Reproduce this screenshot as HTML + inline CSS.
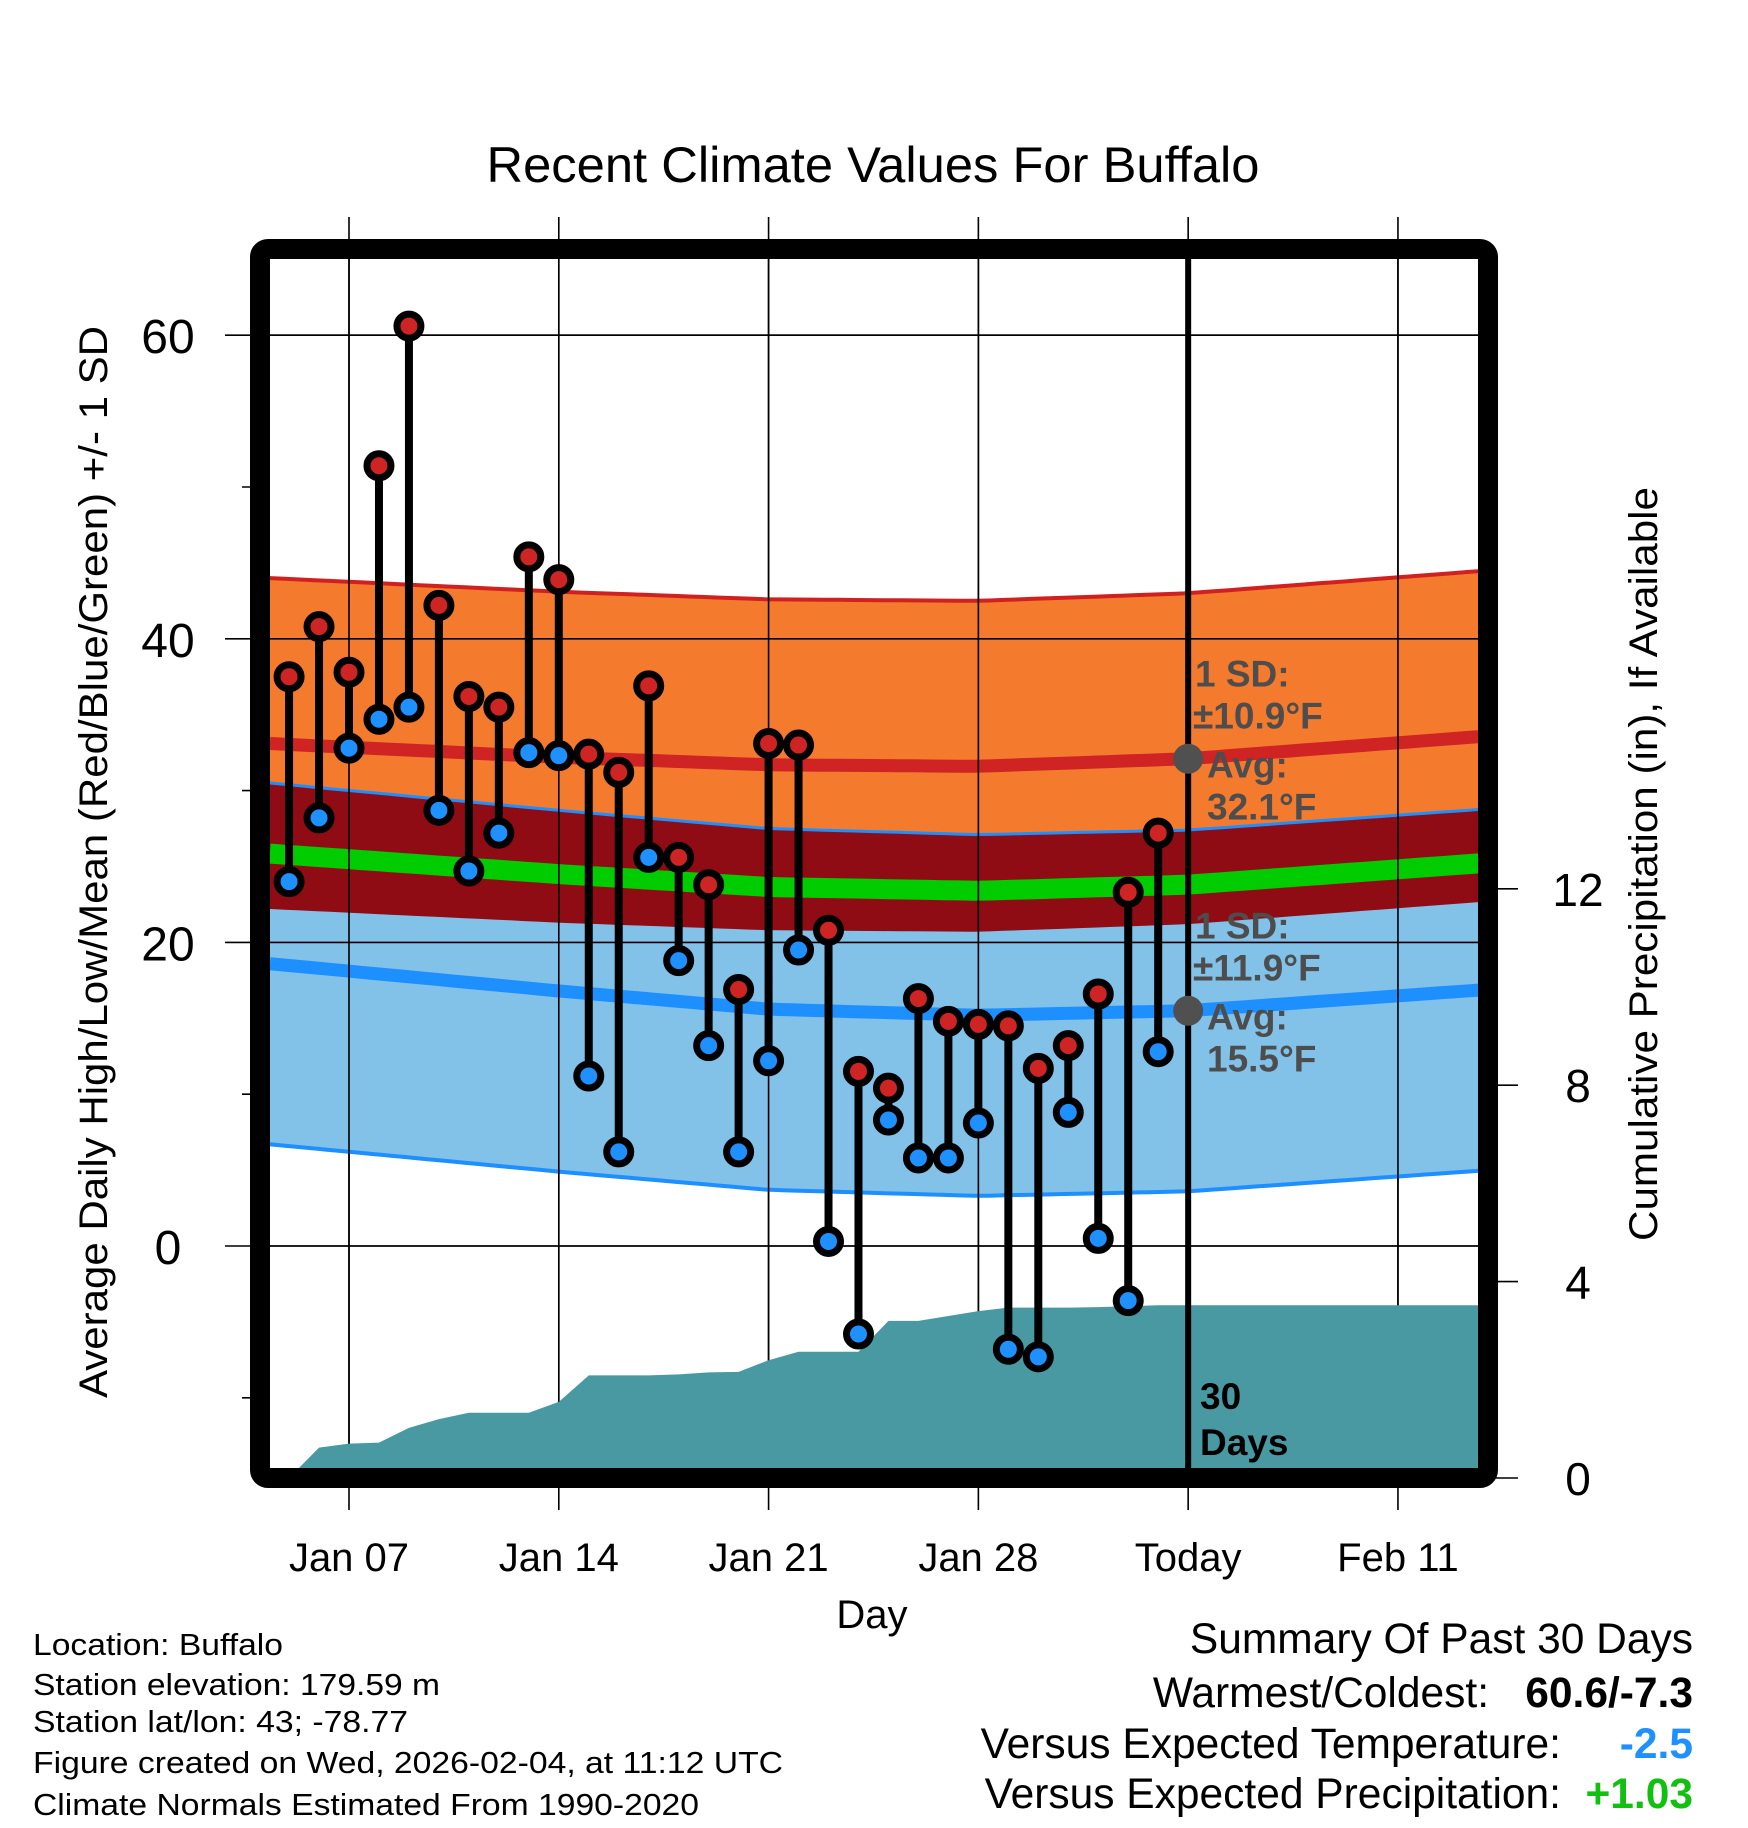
<!DOCTYPE html>
<html><head><meta charset="utf-8"><style>
html,body{margin:0;padding:0;background:#fff}
svg{display:block;font-family:"Liberation Sans",sans-serif}
</style></head><body>
<svg id="chart" width="1748" height="1828" viewBox="0 0 1748 1828" xmlns="http://www.w3.org/2000/svg">
<defs><clipPath id="plotclip"><rect x="270" y="259" width="1208" height="1209"/></clipPath></defs>
<g id="grid"></g>
<g id="bands" clip-path="url(#plotclip)"></g>
<g id="gridover" clip-path="url(#plotclip)"></g>
<g id="precip" clip-path="url(#plotclip)"></g>
<g id="marks"></g>
<rect x="260" y="249" width="1228" height="1229" rx="8" fill="none" stroke="#000" stroke-width="20"/>
<g id="axes"></g>
<text x="873" y="182" font-size="50" text-anchor="middle" textLength="773" lengthAdjust="spacingAndGlyphs">Recent Climate Values For Buffalo</text>
<text x="872" y="1628" font-size="40" text-anchor="middle">Day</text>
<text transform="translate(107,862) rotate(-90)" font-size="40" text-anchor="middle" textLength="1072" lengthAdjust="spacingAndGlyphs">Average Daily High/Low/Mean (Red/Blue/Green) +/- 1 SD</text>
<text transform="translate(1657,864) rotate(-90)" font-size="40" text-anchor="middle" textLength="754" lengthAdjust="spacingAndGlyphs">Cumulative Precipitation (in), If Available</text>
<g font-size="31">
<text x="33" y="1655" textLength="250" lengthAdjust="spacingAndGlyphs">Location: Buffalo</text>
<text x="33" y="1695" textLength="407" lengthAdjust="spacingAndGlyphs">Station elevation: 179.59 m</text>
<text x="33" y="1732" textLength="375" lengthAdjust="spacingAndGlyphs">Station lat/lon: 43; -78.77</text>
<text x="33" y="1773" textLength="750" lengthAdjust="spacingAndGlyphs">Figure created on Wed, 2026-02-04, at 11:12 UTC</text>
<text x="33" y="1815" textLength="666" lengthAdjust="spacingAndGlyphs">Climate Normals Estimated From 1990-2020</text>
</g>
<g font-size="42.5">
<text x="1693" y="1653" text-anchor="end">Summary Of Past 30 Days</text>
<text x="1489" y="1707" text-anchor="end">Warmest/Coldest:</text>
<text x="1693" y="1707" text-anchor="end" font-weight="bold">60.6/-7.3</text>
<text x="1561" y="1758" text-anchor="end">Versus Expected Temperature:</text>
<text x="1693" y="1758" text-anchor="end" font-weight="bold" fill="#1e90ff">-2.5</text>
<text x="1561" y="1808" text-anchor="end">Versus Expected Precipitation:</text>
<text x="1693" y="1808" text-anchor="end" font-weight="bold" fill="#11c011">+1.03</text>
</g>
</svg>
<script>
// ---- data (day index: 0 = Jan 07) ----
const dayIdx = [-2,-1,0,1,2,3,4,5,6,7,8,9,10,11,12,13,14,15,16,17,18,19,20,21,22,23,24,25,26,27];
const highs = [37.5,40.8,37.8,51.4,60.6,42.2,36.2,35.5,45.4,43.9,32.4,31.2,36.9,25.6,23.8,16.9,33.1,33.0,20.8,11.5,10.4,16.3,14.8,14.6,14.5,11.7,13.2,16.6,23.3,27.2];
const lows = [24.0,28.2,32.8,34.7,35.5,28.7,24.7,27.2,32.5,32.3,11.2,6.2,25.6,18.8,13.2,6.2,12.2,19.5,0.3,-5.8,8.3,5.8,5.8,8.1,-6.8,-7.3,8.8,0.5,-3.6,12.8];
const precipCum = [0,0.62,0.70,0.72,1.02,1.2,1.33,1.33,1.33,1.55,2.09,2.09,2.09,2.11,2.15,2.16,2.4,2.57,2.57,2.57,3.2,3.2,3.3,3.4,3.47,3.47,3.47,3.48,3.5,3.52];
const normDays = [-2.64,7,14,21,28,38];
const normHigh = [33.1,32.2,31.7,31.6,32.1,33.6];
const normLow = [18.6,16.8,15.6,15.2,15.5,16.9];
const hiSD = 10.9;
const loSD = 11.9;
const xTickDays = [0,7,14,21,28,35];
const xTickLabels = ["Jan 07","Jan 14","Jan 21","Jan 28","Today","Feb 11"];
const yTicks = [0,20,40,60];
const yMinor = [-10,10,30,50];
const y2Ticks = [0,4,8,12];
const todayDay = 28;

// ---- scales ----
const X = d => 349 + d*29.97;
const Y = v => 1246 - v*15.18;
const Y2 = p => 1478 - p*49.1;
const NS = "http://www.w3.org/2000/svg";
function mk(tag, attrs, parent){const e=document.createElementNS(NS,tag);for(const k in attrs)e.setAttribute(k,attrs[k]);parent.appendChild(e);return e;}
const G = id => document.getElementById(id);
function interp(arr,d){for(let i=0;i<normDays.length-1;i++){if(d<=normDays[i+1]||i===normDays.length-2){const t=(d-normDays[i])/(normDays[i+1]-normDays[i]);return arr[i]+t*(arr[i+1]-arr[i]);}}}
const samp=[];const dEnd=normDays[normDays.length-1];for(let d=normDays[0];d<dEnd;d+=0.5)samp.push(d);samp.push(dEnd);
const f=(fn)=>samp.map(d=>[X(d),fn(d)]);
const pts=a=>a.map(p=>p[0].toFixed(1)+","+p[1].toFixed(1)).join(" ");
function band(upper,lower,fill,name){const u=f(upper),l=f(lower).reverse();const e=mk("polygon",{points:pts(u.concat(l)),fill:fill},G("bands"));

}
function line(fn,color,w,name){const e=mk("polyline",{points:pts(f(fn)),fill:"none",stroke:color,"stroke-width":w},G("bands"));

}
const hU=d=>Y(interp(normHigh,d)+hiSD), hL=d=>Y(interp(normHigh,d)-hiSD);
const lU=d=>Y(interp(normLow,d)+loSD), lL=d=>Y(interp(normLow,d)-loSD);
band(hU,hL,"#f47a2e","high-sd-band");
band(lU,lL,"#82c1e8","low-sd-band");
band(lU,hL,"#900c14","overlap-band");
line(hU,"#d02020",4,"high-plus-sd-line");
line(lU,"#1e8fff",3,"low-plus-sd-line");
line(lL,"#1e8fff",4,"low-minus-sd-line");
line(d=>Y(interp(normHigh,d)),"#d02323",13,"normal-high-line");
line(d=>Y(interp(normLow,d)),"#1e8fff",13,"normal-low-line");
line(d=>Y((interp(normHigh,d)+interp(normLow,d))/2),"#00cc00",20,"normal-mean-line");

xTickDays.forEach((d,i)=>{
 const e=mk("line",{x1:X(d),x2:X(d),y1:217,y2:1510,stroke:"#000","stroke-width":1.6},G("grid"));
 
 
 const o=mk("line",{x1:X(d),x2:X(d),y1:259,y2:1468,stroke:"#000","stroke-width":1.6},G("gridover"));
 
 
 const t=mk("text",{x:X(d),y:1571,"font-size":40,"text-anchor":"middle"},G("axes"));t.textContent=xTickLabels[i];
 
 
});
yTicks.forEach(v=>{
 const e=mk("line",{x1:225,x2:1478,y1:Y(v),y2:Y(v),stroke:"#000","stroke-width":1.6},G("grid"));
 
 
 const o=mk("line",{x1:270,x2:1478,y1:Y(v),y2:Y(v),stroke:"#000","stroke-width":1.6},G("gridover"));
 
 
 const t=mk("text",{x:168,y:Y(v)+18,"font-size":48,"text-anchor":"middle"},G("axes"));t.textContent=v;
 
 
});
yMinor.forEach(v=>{
 const e=mk("line",{x1:242,x2:260,y1:Y(v),y2:Y(v),stroke:"#000","stroke-width":1.6},G("axes"));
 
 
});
y2Ticks.forEach(p=>{
 const e=mk("line",{x1:1488,x2:1518,y1:Y2(p),y2:Y2(p),stroke:"#000","stroke-width":1.6},G("axes"));
 
 
 const t=mk("text",{x:1578,y:Y2(p)+17,"font-size":46,"text-anchor":"middle"},G("axes"));t.textContent=p;
 
 
});

{
 const p=[[X(dayIdx[0]),Y2(0)]];
 dayIdx.forEach((d,i)=>p.push([X(d),Y2(precipCum[i])]));
 p.push([1480,Y2(precipCum[precipCum.length-1])]);p.push([1480,Y2(0)]);
 const e=mk("polygon",{points:pts(p),fill:"#4899a1"},G("precip"));
 
 
}

{
 const e=mk("line",{x1:X(todayDay),x2:X(todayDay),y1:259,y2:1468,stroke:"#000","stroke-width":6},G("marks"));
 
 
}
dayIdx.forEach((d,i)=>{
 const s=mk("line",{x1:X(d),x2:X(d),y1:Y(highs[i]),y2:Y(lows[i]),stroke:"#000","stroke-width":8},G("marks"));
 
 
});
dayIdx.forEach((d,i)=>{
 const h=mk("circle",{cx:X(d),cy:Y(highs[i]),r:12,fill:"#cf2424",stroke:"#000","stroke-width":7},G("marks"));
 
 
 const l=mk("circle",{cx:X(d),cy:Y(lows[i]),r:12,fill:"#1e90ff",stroke:"#000","stroke-width":7},G("marks"));
 
 
});
[[interp(normHigh,todayDay),hiSD],[interp(normLow,todayDay),loSD]].forEach((a,k)=>{
 const c=mk("circle",{cx:X(todayDay),cy:Y(a[0]),r:15,fill:"#505050"},G("marks"));
 
 
 const y0=Y(a[0]);
 const lines=[["1 SD:",1195,y0-72],["\u00b1"+a[1].toFixed(1)+"\u00b0F",1193,y0-30],["Avg:",1207,y0+19],[a[0].toFixed(1)+"\u00b0F",1207,y0+61]];
 lines.forEach(L=>{const t=mk("text",{x:L[1],y:L[2],"font-size":37,"font-weight":"bold",fill:"#4d4d4d"},G("marks"));t.textContent=L[0];
 
 });
});
{
 const t1=mk("text",{x:1200,y:1409,"font-size":37,"font-weight":"bold"},G("marks"));t1.textContent="30";
 
 
 const t2=mk("text",{x:1200,y:1455,"font-size":37,"font-weight":"bold"},G("marks"));t2.textContent="Days";
 
 
}
</script>
</body></html>
